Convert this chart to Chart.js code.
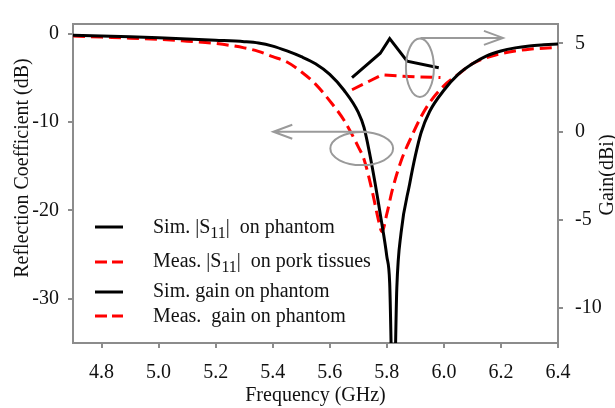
<!DOCTYPE html>
<html>
<head>
<meta charset="utf-8">
<script src="https://cdn.jsdelivr.net/npm/chart.js@4.4.0/dist/chart.umd.min.js"></script>
<style>
  html, body { margin: 0; padding: 0; background: #fff; }
  #wrap { width: 615px; height: 408px; }
</style>
</head>
<body>
<div id="wrap"><canvas id="chart" width="615" height="408"></canvas></div>
<script>
// tick values
const freqTicks = [4.8, 5.0, 5.2, 5.4, 5.6, 5.8, 6.0, 6.2, 6.4];
const s11Ticks = [0, -10, -20, -30];
const gainTicks = [5, 0, -5, -10];

// Sim. |S11| on phantom (dB)
const simS11Freq = [4.7, 4.8, 4.9, 5.0, 5.1, 5.2, 5.3, 5.35, 5.4, 5.45, 5.5, 5.55, 5.6, 5.65, 5.7, 5.72, 5.75, 5.78, 5.8, 5.81,
  5.823, 5.835, 5.85, 5.88, 5.9, 5.92, 5.95, 6.0, 6.05, 6.1, 6.15, 6.2, 6.25, 6.3, 6.35, 6.4];
const simS11 = [-0.17, -0.25, -0.35, -0.47, -0.6, -0.74, -0.9, -1.05, -1.4, -1.95, -2.6, -3.4, -4.6, -6.4, -8.9, -10.6, -15.3, -21, -25.2, -28.2,
  -45, -28.8, -22.5, -17.0, -13.8, -11.2, -8.8, -6.4, -4.6, -3.4, -2.5, -1.95, -1.6, -1.38, -1.25, -1.15];

// Meas. |S11| on pork tissues (dB)
const measS11Freq = [4.7, 4.8, 4.9, 5.0, 5.1, 5.2, 5.3, 5.35, 5.4, 5.45, 5.5, 5.55, 5.6, 5.65, 5.7, 5.72, 5.75, 5.77, 5.783, 5.8,
  5.82, 5.85, 5.89, 5.92, 5.95, 6.0, 6.05, 6.1, 6.15, 6.2, 6.25, 6.3, 6.35, 6.4];
const measS11 = [-0.26, -0.38, -0.5, -0.63, -0.85, -1.1, -1.6, -2.0, -2.6, -3.2, -4.3, -5.7, -7.6, -9.8, -12.8, -14.2, -18.0, -21.0, -22.4, -20.4,
  -17.6, -14.4, -11.4, -9.4, -7.8, -5.9, -4.6, -3.4, -2.7, -2.25, -1.95, -1.75, -1.65, -1.55];

// gain (dBi)
const simGainFreq = [5.678, 5.777, 5.81, 5.871, 5.982];
const simGain = [3.06, 4.44, 5.27, 3.99, 3.62];
const measGainFreq = [5.678, 5.783, 5.9, 5.988];
const measGain = [2.37, 3.21, 3.1, 3.06];

const legendLabels = [
  ['Sim. |S', '11', '|  on phantom'],
  ['Meas. |S', '11', '|  on pork tissues'],
  ['Sim. gain on phantom'],
  ['Meas.  gain on phantom']
];

// callouts (data coordinates)
const ellipses = [
  { x: 5.712, y: -13, rx: 0.11, ry: 1.87, axis: 'y' },
  { x: 5.916, y: 3.62, rx: 0.049, ry: 1.66, axis: 'y1' }
];
const arrows = [
  { from: 5.728, to: 5.402, y: -11.1, axis: 'y' },
  { from: 5.918, to: 6.207, y: 5.31, axis: 'y1' }
];

const FONT = '"Liberation Serif", "Times New Roman", serif';
const GRAY = '#8c8c8c';

const toPoints = (xs, ys) => xs.map((x, i) => ({ x: x, y: ys[i] }));

const framePlugin = {
  id: 'frame',
  beforeDatasetsDraw(chart) {
    const { ctx, chartArea: a } = chart;
    ctx.save();
    ctx.strokeStyle = GRAY;
    ctx.lineWidth = 2;
    ctx.strokeRect(a.left, a.top, a.right - a.left, a.bottom - a.top);
    ctx.restore();
  }
};

const calloutPlugin = {
  id: 'callouts',
  afterDatasetsDraw(chart) {
    const { ctx, scales } = chart;
    const xs = scales.x;
    ctx.save();
    ctx.strokeStyle = '#9a9a9a';
    ctx.lineWidth = 2;
    ellipses.forEach(e => {
      const ys = scales[e.axis];
      const cx = xs.getPixelForValue(e.x), cy = ys.getPixelForValue(e.y);
      const rx = Math.abs(xs.getPixelForValue(e.x + e.rx) - cx);
      const ry = Math.abs(ys.getPixelForValue(e.y + e.ry) - cy);
      ctx.beginPath();
      ctx.ellipse(cx, cy, rx, ry, 0, 0, Math.PI * 2);
      ctx.stroke();
    });
    arrows.forEach(a => {
      const ys = scales[a.axis];
      const x0 = xs.getPixelForValue(a.from), x1 = xs.getPixelForValue(a.to);
      const y = ys.getPixelForValue(a.y);
      const dir = Math.sign(x1 - x0);
      ctx.beginPath();
      ctx.moveTo(x0, y);
      ctx.lineTo(x1, y);
      ctx.moveTo(x1 - dir * 19, y - 7);
      ctx.lineTo(x1, y);
      ctx.lineTo(x1 - dir * 19, y + 7);
      ctx.stroke();
    });
    ctx.restore();
  }
};

const legendPlugin = {
  id: 'insideLegend',
  afterDatasetsDraw(chart) {
    const ctx = chart.ctx;
    const sampleY = [227, 262, 292, 316];
    const baseY = [233, 267, 297, 322];
    ctx.save();
    legendLabels.forEach((parts, i) => {
      const ds = chart.data.datasets[i];
      ctx.strokeStyle = ds.borderColor;
      ctx.lineWidth = 3;
      ctx.setLineDash(ds.borderDash ? [12, 5] : []);
      ctx.beginPath();
      ctx.moveTo(95, sampleY[i]);
      ctx.lineTo(123, sampleY[i]);
      ctx.stroke();
      ctx.setLineDash([]);
      ctx.fillStyle = '#111';
      ctx.textBaseline = 'alphabetic';
      ctx.textAlign = 'left';
      let x = 153;
      parts.forEach((p, j) => {
        const sub = parts.length === 3 && j === 1;
        ctx.font = (sub ? '16px ' : '20px ') + FONT;
        ctx.fillText(p, x, baseY[i] + (sub ? 5 : 0));
        x += ctx.measureText(p).width;
      });
    });
    ctx.restore();
  }
};

const titlePlugin = {
  id: 'sideTitles',
  afterDraw(chart) {
    const ctx = chart.ctx;
    [['Reflection Coefficient (dB)', 28, 168], ['Gain(dBi)', 613, 175]].forEach(([text, x, y]) => {
      ctx.save();
      ctx.fillStyle = '#111';
      ctx.font = '20px ' + FONT;
      ctx.textAlign = 'center';
      ctx.textBaseline = 'alphabetic';
      ctx.translate(x, y);
      ctx.rotate(-Math.PI / 2);
      ctx.fillText(text, 0, 0);
      ctx.restore();
    });
  }
};

const tickFont = { family: FONT, size: 20 };
const tickGrid = { drawOnChartArea: false, drawTicks: true, tickLength: 5, color: GRAY, lineWidth: 2 };

new Chart(document.getElementById('chart').getContext('2d'), {
  type: 'line',
  data: {
    datasets: [
      {
        label: 'Sim. |S11| on phantom',
        data: toPoints(simS11Freq, simS11),
        yAxisID: 'y',
        borderColor: '#000',
        borderWidth: 3,
        pointRadius: 0,
        cubicInterpolationMode: 'monotone',
        fill: false
      },
      {
        label: 'Meas. |S11| on pork tissues',
        data: toPoints(measS11Freq, measS11),
        yAxisID: 'y',
        borderColor: '#ff0000',
        borderWidth: 3,
        borderDash: [12, 6],
        pointRadius: 0,
        cubicInterpolationMode: 'monotone',
        fill: false
      },
      {
        label: 'Sim. gain on phantom',
        data: toPoints(simGainFreq, simGain),
        yAxisID: 'y1',
        borderColor: '#000',
        borderWidth: 3,
        pointRadius: 0,
        tension: 0,
        fill: false
      },
      {
        label: 'Meas.  gain on phantom',
        data: toPoints(measGainFreq, measGain),
        yAxisID: 'y1',
        borderColor: '#ff0000',
        borderWidth: 3,
        borderDash: [12, 6],
        pointRadius: 0,
        tension: 0,
        fill: false
      }
    ]
  },
  options: {
    responsive: false,
    animation: false,
    layout: { padding: { top: 15, left: 0, right: 0, bottom: 0 } },
    plugins: { legend: { display: false }, tooltip: { enabled: false } },
    scales: {
      x: {
        type: 'linear',
        min: 4.7,
        max: 6.4,
        afterBuildTicks: s => { s.ticks = freqTicks.map(v => ({ value: v })); },
        afterFit: s => { s.height = 65; },
        ticks: { callback: v => v.toFixed(1), font: tickFont, color: '#111', padding: 13, maxRotation: 0, autoSkip: false },
        grid: tickGrid,
        border: { display: false },
        title: { display: true, text: 'Frequency (GHz)', font: { family: FONT, size: 20 }, color: '#111', padding: { top: 0, bottom: 0 } }
      },
      y: {
        position: 'left',
        min: -35,
        max: 1.1,
        afterBuildTicks: s => { s.ticks = s11Ticks.map(v => ({ value: v })); },
        afterFit: s => { s.width = 73; },
        ticks: { font: tickFont, color: '#111', padding: 9, autoSkip: false },
        grid: tickGrid,
        border: { display: false }
      },
      y1: {
        position: 'right',
        min: -12,
        max: 6.1,
        afterBuildTicks: s => { s.ticks = gainTicks.map(v => ({ value: v })); },
        afterFit: s => { s.width = 57; },
        ticks: { font: tickFont, color: '#111', padding: 12, autoSkip: false },
        grid: tickGrid,
        border: { display: false }
      }
    }
  },
  plugins: [framePlugin, calloutPlugin, legendPlugin, titlePlugin]
});
</script>
</body>
</html>
